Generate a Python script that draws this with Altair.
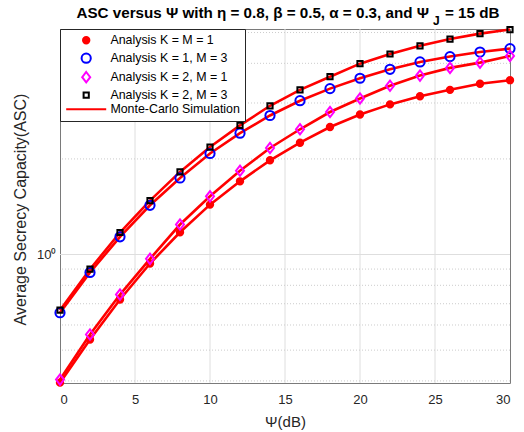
import altair as alt
import pandas as pd

# ---------------- data ----------------
psi_db = [0, 2, 4, 6, 8, 10, 12, 14, 16, 18, 20, 22, 24, 26, 28, 30]

asc_k1_m1 = [0.395, 0.540, 0.722, 0.937, 1.175, 1.436, 1.70, 1.98, 2.25, 2.52, 2.76, 2.97, 3.15, 3.30, 3.45, 3.54]
asc_k1_m3 = [0.656, 0.878, 1.137, 1.429, 1.742, 2.08, 2.41, 2.74, 3.05, 3.33, 3.59, 3.83, 4.04, 4.20, 4.34, 4.45]
asc_k2_m1 = [0.404, 0.560, 0.748, 0.969, 1.243, 1.525, 1.836, 2.165, 2.48, 2.81, 3.10, 3.40, 3.66, 3.87, 4.02, 4.22]
asc_k2_m3 = [0.668, 0.899, 1.173, 1.479, 1.820, 2.18, 2.55, 2.94, 3.30, 3.63, 3.99, 4.28, 4.54, 4.77, 4.96, 5.11]

series_names = [
    "Analysis K = M = 1",
    "Analysis K = 1, M = 3",
    "Analysis K = 2, M = 1",
    "Analysis K = 2, M = 3",
    "Monte-Carlo Simulation",
]
stroke_colors = ["#ff0000", "#0000ff", "#ff00ff", "#000000", "#ff0000"]
fill_colors = ["#ff0000", "transparent", "transparent", "transparent", "transparent"]
# marker outlines (unit = half the symbol's size side)
shapes = [
    "M-0.8,0A0.8,0.8,0,1,1,0.8,0A0.8,0.8,0,1,1,-0.8,0Z",
    "M-1.15,0A1.15,1.15,0,1,1,1.15,0A1.15,1.15,0,1,1,-1.15,0Z",
    "M0,-1.3L1.0,0L0,1.3L-1.0,0Z",
    "M-0.65,-0.65L0.65,-0.65L0.65,0.65L-0.65,0.65Z",
    "M-5,0L5,0",
]

y_ticks = [0.4, 0.5, 0.6, 0.7, 0.8, 0.9, 1, 2, 3, 4, 5]
x_ticks = [0, 5, 10, 15, 20, 25, 30]

title_main = "ASC versus Ψ with η = 0.8, β = 0.5, α = 0.3, and Ψ"
title_sub = "J"
title_tail = "= 15 dB"

# ---------------- tables ----------------
rows = []
for name, vals in zip(series_names[:4], [asc_k1_m1, asc_k1_m3, asc_k2_m1, asc_k2_m3]):
    for xv, yv in zip(psi_db, vals):
        rows.append({"psi": xv, "asc": yv, "series": name, "curve": name})
points_df = pd.DataFrame(rows)
lines_df = points_df.copy()
lines_df["series"] = series_names[4]

xgrid_df = pd.DataFrame({"psi": [v for v in x_ticks if v not in (x_ticks[0], x_ticks[-1])]})
ymajor_df = pd.DataFrame({"asc": [v for v in y_ticks if v == 1]})
yminor_df = pd.DataFrame({"asc": [v for v in y_ticks if v != 1]})

FONT = "Liberation Sans"
AX = "#262626"

legend = alt.Legend(
    title=None,
    orient="none",
    legendX=0,
    legendY=0,
    padding=5,
    strokeColor=AX,
    fillColor="white",
    cornerRadius=0,
    labelFont=FONT,
    labelFontSize=12.4,
    labelColor="#000000",
    symbolSize=64,
    symbolOffset=15,
    labelOffset=18,
    rowPadding=1,
    symbolStrokeWidth=2,
    symbolOpacity=1,
)

x_scale = alt.Scale(domain=[0, 30], nice=False)
y_scale = alt.Scale(type="log", domain=[0.394, 5.13], nice=False)

x_axis = alt.Axis(
    values=x_ticks,
    title="Ψ(dB)",
    titleFont=FONT,
    titleFontSize=15,
    titleFontWeight="normal",
    titleColor=AX,
    titleBaseline="middle",
    titleY=38,
    labelFont=FONT,
    labelFontSize=13,
    labelColor=AX,
    labelPadding=10,
    ticks=False,
    domain=False,
    grid=False,
)
y_axis = alt.Axis(
    values=y_ticks,
    labelExpr="datum.value == 1 ? '10⁰' : ''",
    title="Average Secrecy Capacity(ASC)",
    titleFont=FONT,
    titleFontSize=16,
    titleFontWeight="normal",
    titleColor=AX,
    titleAngle=270,
    titleAlign="center",
    titleBaseline="middle",
    titleX=-40,
    titleY=180,
    labelFont=FONT,
    labelFontSize=13,
    labelColor=AX,
    labelPadding=4,
    ticks=False,
    domain=False,
    grid=False,
)

x_enc = alt.X("psi:Q", scale=x_scale, axis=x_axis)
y_enc = alt.Y("asc:Q", scale=y_scale, axis=y_axis)

stroke_enc = alt.Stroke("series:N", scale=alt.Scale(domain=series_names, range=stroke_colors), legend=legend)
fill_enc = alt.Fill("series:N", scale=alt.Scale(domain=series_names, range=fill_colors), legend=legend)
shape_enc = alt.Shape("series:N", scale=alt.Scale(domain=series_names, range=shapes), legend=legend)

xgrid = alt.Chart(xgrid_df).mark_rule(color="#dedede", strokeWidth=1).encode(x=x_enc)
ymajor = alt.Chart(ymajor_df).mark_rule(color="#dedede", strokeWidth=1).encode(y=y_enc)
yminor = alt.Chart(yminor_df).mark_rule(color="#cccccc", strokeWidth=1, strokeDash=[1, 2]).encode(y=y_enc)

lines = alt.Chart(lines_df).mark_line(strokeWidth=2.6).encode(
    x=x_enc,
    y=y_enc,
    stroke=stroke_enc,
    detail="curve:N",
)

points = alt.Chart(points_df).mark_point(filled=False, size=64, strokeWidth=2, opacity=1).encode(
    x=x_enc,
    y=y_enc,
    stroke=stroke_enc,
    fill=fill_enc,
    shape=shape_enc,
)

t1 = alt.Chart(alt.Data(values=[{"t": title_main}])).mark_text(
    align="right", baseline="alphabetic", font=FONT, fontSize=15.2, fontWeight="bold", color="#000000"
).encode(text="t:N", x=alt.value(369), y=alt.value(-11.5))
t2 = alt.Chart(alt.Data(values=[{"t": title_sub}])).mark_text(
    align="left", baseline="alphabetic", font=FONT, fontSize=12, fontWeight="bold", color="#000000"
).encode(text="t:N", x=alt.value(373), y=alt.value(-4))
t3 = alt.Chart(alt.Data(values=[{"t": title_tail}])).mark_text(
    align="left", baseline="alphabetic", font=FONT, fontSize=15.2, fontWeight="bold", color="#000000"
).encode(text="t:N", x=alt.value(385), y=alt.value(-11.5))

chart = (
    alt.layer(xgrid, ymajor, yminor, lines, points, t1, t2, t3)
    .properties(
        width=450,
        height=354,
        autosize=alt.AutoSizeParams(type="none"),
        padding={"left": 60, "top": 29, "right": 14, "bottom": 49},
        background="white",
    )
    .configure_view(stroke="#7a7a7a", strokeWidth=1)
)

chart.save("out.html", embed_options={"renderer": "svg", "actions": False})
